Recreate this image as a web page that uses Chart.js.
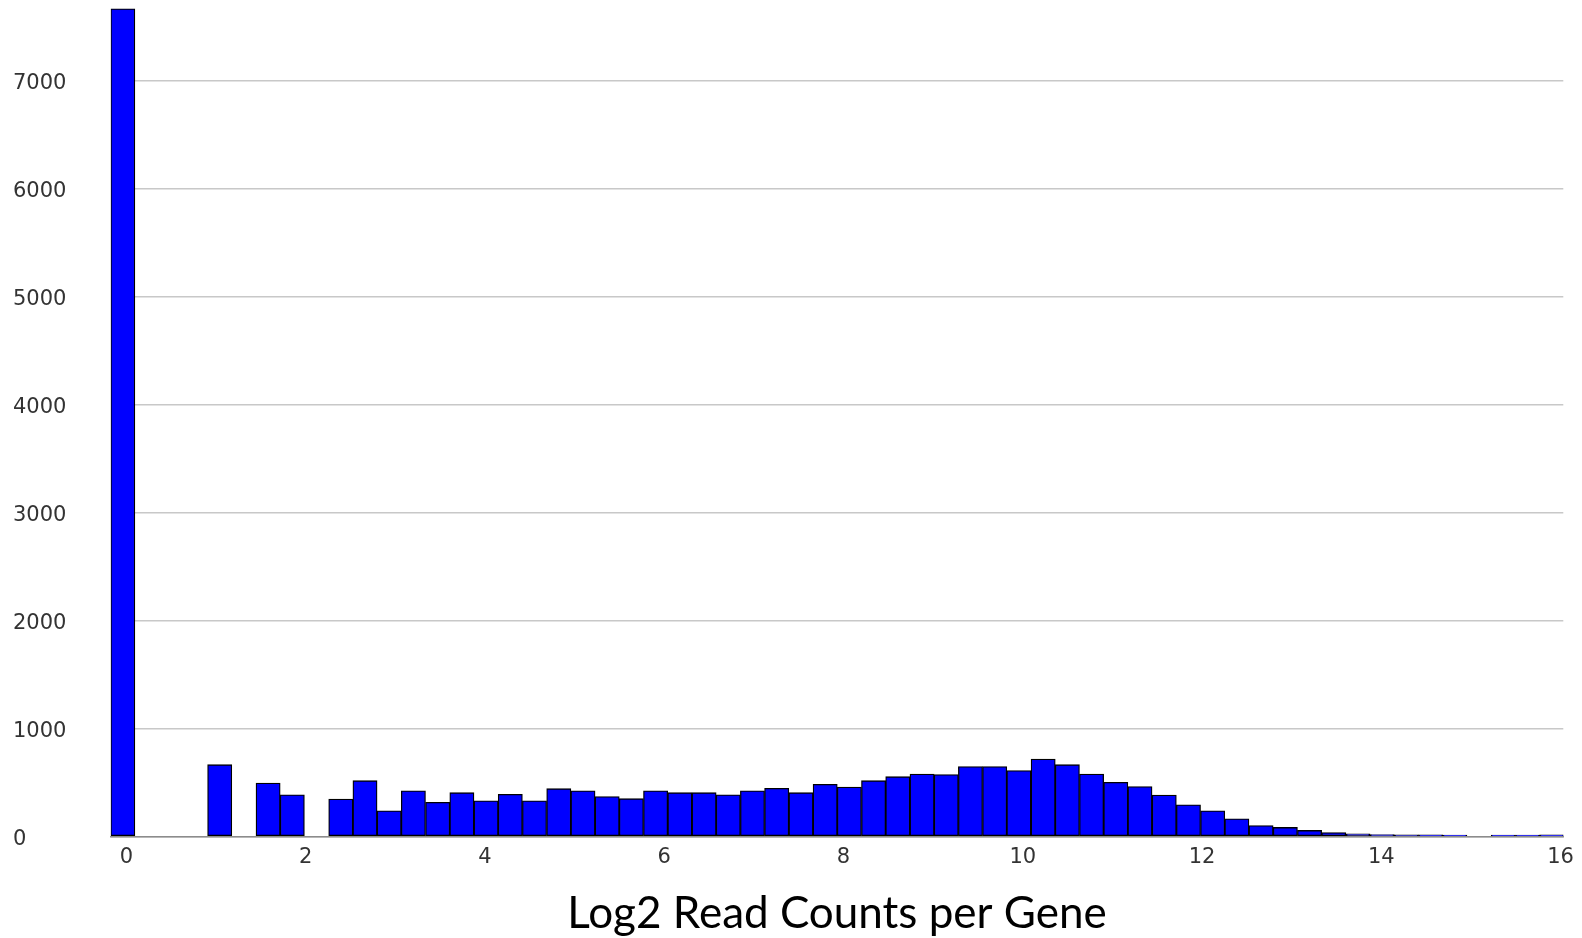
<!DOCTYPE html>
<html lang="en">
<head>
<meta charset="UTF-8">
<title>Log2 Read Counts per Gene</title>
<script src="https://cdn.jsdelivr.net/npm/chart.js"></script>
<style>
  html, body { margin: 0; padding: 0; background: #fff; }
  .container { width: 1582px; height: 938px; position: relative; }
</style>
</head>
<body>
<div class="container"><canvas id="histChart"></canvas></div>
<script>
// histogram bins: centre of each bin on the log2 scale
const binCenters = [
  -0.041, 0.229, 0.499, 0.770, 1.040, 1.310, 1.580, 1.850, 2.121, 2.391,
  2.661, 2.931, 3.201, 3.472, 3.742, 4.012, 4.282, 4.552, 4.823, 5.093,
  5.363, 5.633, 5.903, 6.174, 6.444, 6.714, 6.984, 7.254, 7.525, 7.795,
  8.065, 8.335, 8.605, 8.876, 9.146, 9.416, 9.686, 9.956, 10.227, 10.497,
  10.767, 11.037, 11.307, 11.578, 11.848, 12.118, 12.388, 12.658, 12.929, 13.199,
  13.469, 13.739, 14.009, 14.280, 14.550, 14.820, 15.090, 15.360, 15.631, 15.901
];

// number of genes falling in each bin
const geneCounts = [
  7665, 0, 0, 0, 665, 0, 495, 387, 0, 347,
  517, 238, 424, 316, 406, 331, 390, 331, 443, 424,
  370, 350, 424, 406, 406, 387, 424, 446, 406, 483,
  458, 517, 554, 579, 573, 647, 647, 610, 718, 665,
  579, 502, 462, 384, 294, 238, 164, 102, 84, 56,
  37, 24, 18, 16, 15, 14, 0, 13, 14, 15
];

const xTicks = [0, 2, 4, 6, 8, 10, 12, 14, 16];
const yTicks = [0, 1000, 2000, 3000, 4000, 5000, 6000, 7000];

const tickFont = { family: 'DejaVu Sans', size: 21 };

const ctx = document.getElementById('histChart').getContext('2d');
const histChart = new Chart(ctx, {
  type: 'bar',
  data: {
    datasets: [{
      data: binCenters.map((x, i) => ({ x: x, y: geneCounts[i] })),
      backgroundColor: '#0000ff',
      borderColor: '#000000',
      borderWidth: 1.3,
      borderSkipped: false,
      barPercentage: 1,
      categoryPercentage: 1
    }]
  },
  options: {
    responsive: true,
    maintainAspectRatio: false,
    animation: false,
    layout: { padding: { left: 13, right: 16, top: 5, bottom: 0 } },
    plugins: {
      legend: { display: false },
      tooltip: { enabled: false }
    },
    scales: {
      x: {
        type: 'linear',
        offset: false,
        min: -0.176,
        max: 16.03,
        grid: { display: false, drawTicks: false },
        border: { display: true, color: '#8c8c8c', width: 1.5 },
        afterBuildTicks: s => { s.ticks = xTicks.map(v => ({ value: v })); },
        afterFit: s => { s.height = 101.5; },
        ticks: {
          font: tickFont,
          color: '#333333',
          padding: 8,
          maxRotation: 0,
          autoSkip: false,
          callback: v => String(v)
        },
        title: {
          display: true,
          text: 'Log2 Read Counts per Gene',
          font: { family: 'Lato', size: 44 },
          color: '#000000',
          padding: { top: 0, bottom: -2 }
        }
      },
      y: {
        min: 0,
        max: 7700,
        grid: { color: '#c8c8c8', lineWidth: 1.5, drawTicks: false },
        border: { display: false },
        afterBuildTicks: s => { s.ticks = yTicks.map(v => ({ value: v })); },
        // fixed width, and no extra room reserved for the top/bottom labels
        afterFit: s => { s.width = 97.7; s.paddingTop = 0; s.paddingBottom = 0; },
        ticks: {
          font: tickFont,
          color: '#333333',
          crossAlign: 'far',
          padding: 0,
          labelOffset: 3,
          callback: v => String(v)
        }
      }
    }
  }
});
</script>
</body>
</html>
